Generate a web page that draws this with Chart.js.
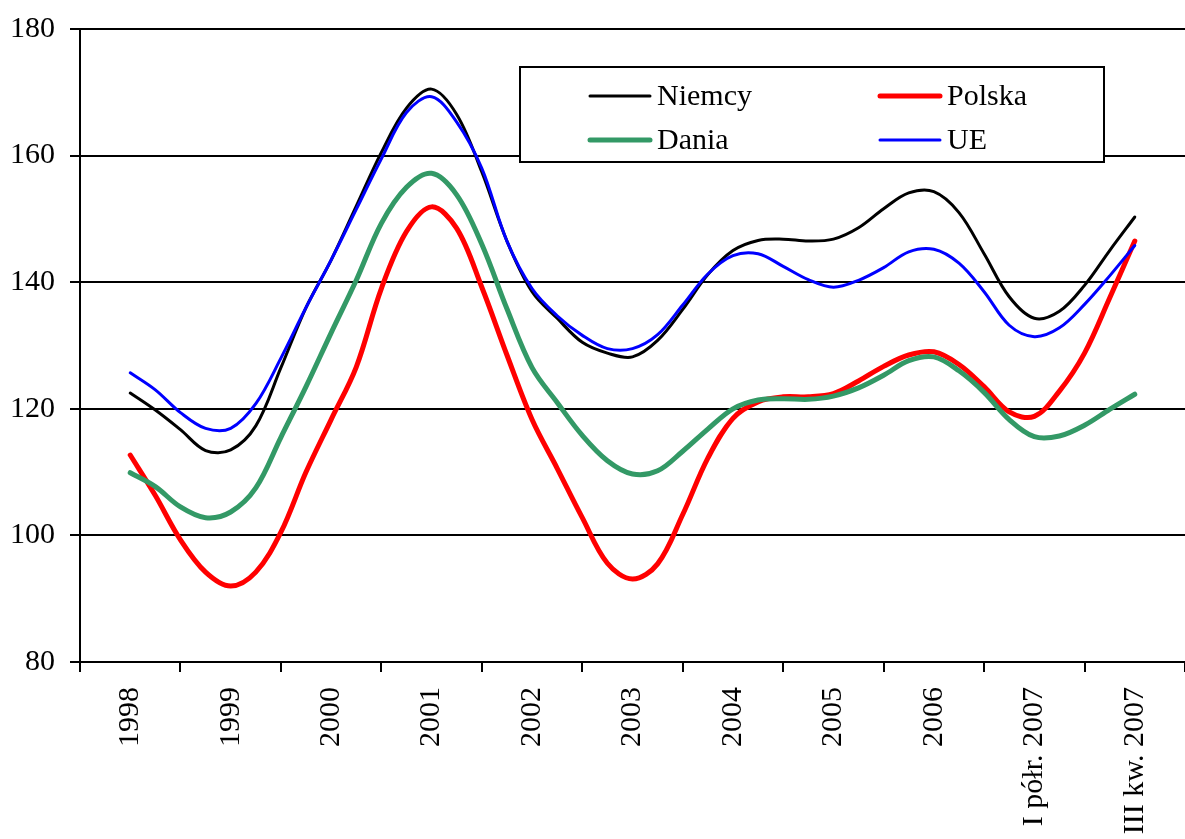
<!DOCTYPE html>
<html>
<head>
<meta charset="utf-8">
<script src="https://cdn.jsdelivr.net/npm/chart.js@4/dist/chart.umd.min.js"></script>
<style>
  html, body { margin: 0; padding: 0; background: #fff; }
  canvas { display: block; }
</style>
</head>
<body>
<canvas id="c" width="1185" height="839"></canvas>
<script>
// Category tick labels (one per year / period)
const categories = ['1998', '1999', '2000', '2001', '2002', '2003', '2004', '2005', '2006', 'I półr. 2007', 'III kw. 2007'];
// Quarterly readings (4 per category step), 1998 .. III kw. 2007
const niemcy = [122.5, 119.8, 116.7, 113.4, 113.5, 117.3, 126.5, 136.0, 143.5, 152.0, 160.5, 167.5, 170.5, 166.5, 157.4, 146.5, 138.5, 134.3, 130.5, 128.8, 128.2, 130.8, 135.7, 141.2, 145.0, 146.6, 146.8, 146.5, 146.8, 148.6, 151.6, 154.1, 154.3, 151.0, 144.5, 137.7, 134.3, 135.4, 139.5, 145.0, 150.3];
const polska = [112.7, 106.3, 99.3, 94.2, 92.0, 94.2, 100.5, 110.0, 118.3, 126.6, 139.0, 148.0, 151.9, 148.5, 139.2, 128.5, 118.3, 110.6, 102.8, 95.6, 93.1, 95.5, 103.3, 112.2, 118.5, 121.1, 121.9, 121.9, 122.4, 124.4, 126.7, 128.5, 129.0, 127.0, 123.5, 119.5, 118.8, 122.8, 128.8, 137.5, 146.5];
const dania = [109.9, 107.7, 104.5, 102.8, 103.7, 107.5, 115.5, 123.5, 132.0, 140.3, 149.3, 155.0, 157.2, 153.8, 146.0, 135.8, 126.5, 121.0, 115.8, 111.8, 109.7, 110.2, 113.3, 116.8, 120.0, 121.4, 121.6, 121.5, 122.0, 123.3, 125.3, 127.6, 128.2, 126.0, 122.6, 118.3, 115.6, 115.7, 117.4, 119.9, 122.3];
const ue = [125.7, 123.0, 119.4, 116.9, 116.9, 120.8, 128.0, 136.0, 143.5, 151.5, 159.5, 166.8, 169.3, 165.3, 158.0, 146.5, 139.0, 134.7, 131.6, 129.5, 129.5, 131.7, 136.4, 141.3, 144.2, 144.5, 142.5, 140.4, 139.2, 140.3, 142.3, 144.8, 145.2, 143.0, 138.5, 133.2, 131.4, 132.8, 136.5, 141.0, 145.8];
const yTicks = [80, 100, 120, 140, 160, 180];

const STEPS_PER_CATEGORY = 4;
const toPoints = arr => arr.map((v, i) => ({ x: i / STEPS_PER_CATEGORY, y: v }));

const FONT = '"Liberation Serif", "Times New Roman", serif';

const legendPlugin = {
  id: 'boxLegend',
  afterDraw(chart) {
    const ctx = chart.ctx;
    ctx.save();
    ctx.fillStyle = '#fff';
    ctx.fillRect(520, 67, 584, 95);
    ctx.strokeStyle = '#000';
    ctx.lineWidth = 2;
    ctx.strokeRect(520, 67, 584, 95);
    const pos = [[590, 96], [880, 96], [590, 140], [880, 140]];
    chart.data.datasets.forEach((ds, i) => {
      const [x, y] = pos[i];
      ctx.strokeStyle = ds.borderColor;
      ctx.lineWidth = ds.borderWidth;
      ctx.lineCap = 'round';
      ctx.beginPath();
      ctx.moveTo(x, y);
      ctx.lineTo(x + 60, y);
      ctx.stroke();
      ctx.fillStyle = '#000';
      ctx.font = '30px ' + FONT;
      ctx.textBaseline = 'middle';
      ctx.textAlign = 'left';
      ctx.fillText(ds.label, x + 67, y + 1);
    });
    ctx.restore();
  }
};

new Chart(document.getElementById('c'), {
  type: 'line',
  data: {
    datasets: [
      { label: 'Niemcy', data: toPoints(niemcy), borderColor: '#000000', borderWidth: 3, order: 4 },
      { label: 'Polska', data: toPoints(polska), borderColor: '#ff0000', borderWidth: 5, order: 3 },
      { label: 'Dania', data: toPoints(dania), borderColor: '#339966', borderWidth: 5, order: 2 },
      { label: 'UE', data: toPoints(ue), borderColor: '#0000ff', borderWidth: 3, order: 1 }
    ]
  },
  options: {
    responsive: false,
    animation: false,
    devicePixelRatio: 1,
    layout: { padding: { top: 29, right: 0, left: 0, bottom: 0 } },
    elements: {
      point: { radius: 0 },
      line: { tension: 0.35, fill: false, borderCapStyle: 'round', borderJoinStyle: 'round' }
    },
    plugins: { legend: { display: false }, tooltip: { enabled: false } },
    scales: {
      x: {
        type: 'linear',
        min: -0.5,
        max: categories.length - 0.5,
        afterBuildTicks: s => { s.ticks = categories.map((c, i) => ({ value: i })); },
        afterFit: s => { s.height = 177; s.paddingLeft = 0; s.paddingRight = 0; },
        ticks: {
          autoSkip: false,
          minRotation: 90,
          maxRotation: 90,
          padding: 15,
          color: '#000',
          font: { family: FONT, size: 30 },
          callback: v => categories[v]
        },
        grid: { drawOnChartArea: false, offset: true, tickLength: 10, color: '#000', lineWidth: 2 },
        border: { display: true, color: '#000', width: 2 }
      },
      y: {
        min: yTicks[0],
        max: yTicks[yTicks.length - 1],
        afterBuildTicks: s => { s.ticks = yTicks.map(v => ({ value: v })); },
        afterFit: s => { s.width = 80; s.paddingTop = 0; s.paddingBottom = 0; },
        ticks: {
          padding: 15,
          color: '#000',
          font: { family: FONT, size: 30 }
        },
        grid: { color: '#000', lineWidth: 2, tickLength: 10 },
        border: { display: true, color: '#000', width: 2 }
      }
    }
  },
  plugins: [legendPlugin]
});
</script>
</body>
</html>
